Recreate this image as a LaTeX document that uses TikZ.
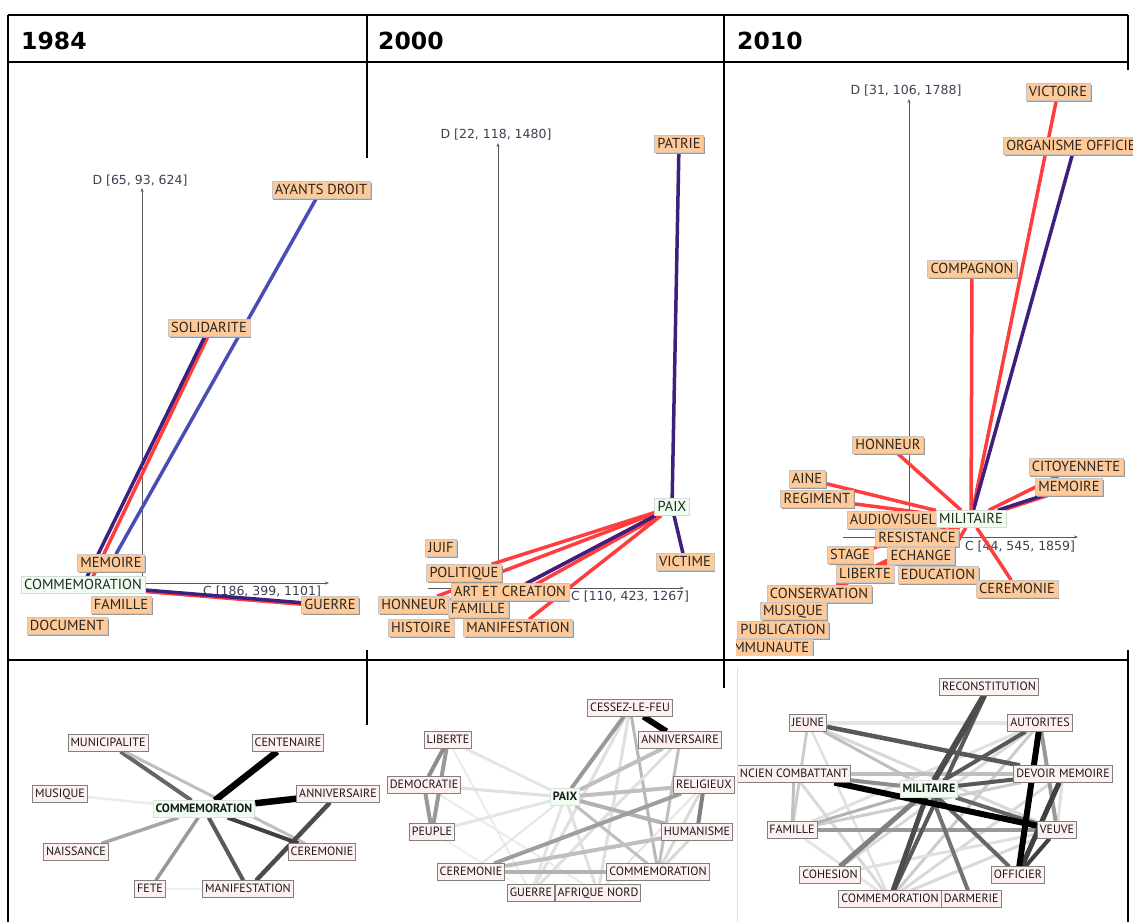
\documentclass[tikz,border=0pt]{standalone}
\usepackage{fontspec}
\setmainfont{PT Sans}
\newfontfamily\dejavu{DejaVu Sans}
\usetikzlibrary{positioning,arrows.meta,shadows,backgrounds}
\definecolor{peach}   {HTML}{FFCA98}
\definecolor{blush}   {HTML}{FFF0F0}
\definecolor{mintwash}{HTML}{EFFFEF}
\definecolor{redlink} {HTML}{FF3D3D}
\definecolor{bluelink}{HTML}{4A4DB5}
\definecolor{purplink}{HTML}{3D1F7E}
\definecolor{axisink} {HTML}{3B4150}
\tikzset{
  x=1pt, y=-1pt,
  % --- frame and headers
  frame/.style = {line width=2pt, draw=black},
  year/.style  = {anchor=west, inner sep=0pt, font=\dejavu\bfseries\fontsize{23.5}{26}\selectfont},
  % --- top panels
  tbase/.style = {line width=0.5pt, inner xsep=3pt, inner ysep=2pt, text=black!85,
                  text height=10.5pt, text depth=2.5pt, font=\fontsize{14.5}{16}\selectfont},
  term/.style  = {tbase, fill=peach, draw=gray!45,
                  drop shadow={shadow xshift=1.5pt, shadow yshift=-1.5pt, fill=gray!80, opacity=1}},
  pivot/.style = {tbase, fill=mintwash, draw=gray!30},
  axlab/.style = {inner sep=0pt, text=axisink, font=\dejavu\fontsize{12.5}{14}\selectfont},
  axis/.style  = {draw=black!65, line width=0.8pt, -{Stealth[length=4pt,width=3pt]}},
  link/.style  = {line width=3.5pt},
  rl/.style    = {link, draw=redlink},
  bl/.style    = {link, draw=bluelink},
  pl/.style    = {link, draw=purplink},
  % --- bottom panels
  word/.style  = {fill=blush, draw=black!50, line width=0.9pt, inner xsep=2.5pt, inner ysep=2.5pt,
                  text height=8.8pt, text depth=2.5pt, text=black!90,
                  font=\fontsize{12}{13}\selectfont},
  hub/.style   = {word, fill=mintwash, draw=gray!25, font=\bfseries\fontsize{12}{13}\selectfont},
  tie/.style 2 args = {draw=black!#1, line width=#2pt},
}
\begin{document}
\begin{tikzpicture}
  \useasboundingbox (0,0) rectangle (1133,922);

  % table frame
  \draw[frame] (8,15) -- (1128,15);
  \draw[frame] (8,62) -- (1128,62);
  \draw[frame] (8,660) -- (1128,660);
  \draw[frame] (8,15) -- (8,922);
  \draw[frame] (367,15) -- (367,158);
  \draw[frame] (367,650) -- (367,725);
  \draw[frame] (724,15) -- (724,688);
  \draw[frame] (1128,15) -- (1128,70);
  \draw[frame] (1128,650) -- (1128,922);
  \draw[gray!25, line width=0.8pt] (737,668) -- (737,922);

  \node[year] (h1984) at (21,41) {1984};
  \node[year] (h2000) at (378,41) {2000};
  \node[year] (h2010) at (737,41) {2010};

  % ---------------- 1984, top
  \node[term]  (a-ayants) at (321,190) {AYANTS DROIT};
  \node[term]  (a-solid)  at (209,328) {SOLIDARITE};
  \node[term]  (a-memo)   at (111,563) {MEMOIRE};
  \node[pivot] (a-comm)   at (83,585)  {COMMEMORATION};
  \node[term]  (a-fam)    at (121,605) {FAMILLE};
  \node[term]  (a-guer)   at (330,605) {GUERRE};
  \node[term]  (a-doc)    at (67,626)  {DOCUMENT};

  % ---------------- 2000, top
  \node[term]  (b-patrie) at (679,144) {PATRIE};
  \node[pivot] (b-paix)   at (672,507) {PAIX};
  \node[term]  (b-vict)   at (685,562) {VICTIME};
  \node[term]  (b-juif)   at (441,548) {JUIF};
  \node[term]  (b-polit)  at (464,573) {POLITIQUE};
  \node[term]  (b-honn)   at (414,605) {HONNEUR};
  \node[term]  (b-famil)  at (478,609) {FAMILLE};
  \node[term]  (b-art)    at (510,592) {ART ET CREATION};
  \node[term]  (b-hist)   at (421,628) {HISTOIRE};
  \node[term]  (b-manif)  at (518,628) {MANIFESTATION};

  % ---------------- 2010, top
  \node[term]  (c-vict)    at (1058,92)  {VICTOIRE};
  \node[term, anchor=west] (c-orga) at (1003,146) {ORGANISME OFFICIEL};
  \node[term]  (c-compag)  at (972,269)  {COMPAGNON};
  \node[term]  (c-honn)    at (888,445)  {HONNEUR};
  \node[term]  (c-citoy)   at (1076,467) {CITOYENNETE};
  \node[term]  (c-aine)    at (807,479)  {AINE};
  \node[term]  (c-memo)    at (1069,487) {MEMOIRE};
  \node[term]  (c-regim)   at (817,499)  {REGIMENT};
  \node[term]  (c-audio)   at (893,520)  {AUDIOVISUEL};
  \node[pivot] (c-milit)   at (971,519)  {MILITAIRE};
  \node[term]  (c-resist)  at (917,538)  {RESISTANCE};
  \node[term]  (c-stage)   at (850,555)  {STAGE};
  \node[term]  (c-echan)   at (921,556)  {ECHANGE};
  \node[term]  (c-liber)   at (865,574)  {LIBERTE};
  \node[term]  (c-educ)    at (938,575)  {EDUCATION};
  \node[term]  (c-cerem)   at (1017,589) {CEREMONIE};
  \node[term]  (c-conserv) at (819,594)  {CONSERVATION};
  \node[term]  (c-musiq)   at (793,611)  {MUSIQUE};
  \node[term]  (c-public)  at (783,630)  {PUBLICATION};
  \begin{scope}
    \clip (736,600) rectangle (900,655);
    \node[term, anchor=west] (c-commun) at (730,648) {MMUNAUTE};
  \end{scope}

  \begin{scope}[on background layer]
    % axes
    \coordinate (a-orig) at (142,583);
    \coordinate (a-dend) at (142,188);
    \coordinate (a-cbeg) at (30,583);
    \coordinate (a-cend) at (329,583);
    \draw[axis] (a-orig) -- (a-dend);
    \draw[axis] (a-cbeg) -- (a-cend);
    \node[axlab] (a-dlab) at (140,181) {D [65, 93, 624]};
    \node[axlab] (a-clab) at (262,592) {C [186, 399, 1101]};

    \coordinate (b-orig) at (498,588);
    \coordinate (b-dend) at (498,143);
    \coordinate (b-cbeg) at (428,588);
    \coordinate (b-cend) at (684,588);
    \draw[axis] (b-orig) -- (b-dend);
    \draw[axis] (b-cbeg) -- (b-cend);
    \node[axlab] (b-dlab) at (496,135) {D [22, 118, 1480]};
    \node[axlab, anchor=west] (b-clab) at (571,597) {C [110, 423, 1267]};

    \coordinate (c-orig) at (909,537);
    \coordinate (c-dend) at (909,99);
    \coordinate (c-cbeg) at (843,537);
    \coordinate (c-cend) at (1078,537);
    \draw[axis] (c-orig) -- (c-dend);
    \draw[axis] (c-cbeg) -- (c-cend);
    \node[axlab] (c-dlab) at (906,91)   {D [31, 106, 1788]};
    \node[axlab] (c-clab) at (1020,547) {C [44, 545, 1859]};

    % 1984 links
    \draw[bl] (a-ayants) -- (a-memo);
    \draw[rl] ([xshift=3pt]a-solid.center) -- ([xshift=6pt]a-comm.center);
    \draw[pl] (a-solid) -- (a-comm);
    \draw[rl] ([yshift=-1.5pt]a-comm.center) -- ([yshift=-1.5pt]a-guer.center);
    \draw[pl] (a-comm) -- (a-guer);

    % 2000 links
    \draw[pl] (b-patrie) -- (b-paix);
    \draw[pl] (b-paix) -- (b-vict);
    \draw[rl] (b-paix) -- (b-polit);
    \draw[rl] (b-paix) -- (b-honn);
    \draw[rl] (b-paix) -- (b-famil);
    \draw[rl] (b-paix) -- (b-manif);
    \draw[rl] ([xshift=3pt]b-paix.center) -- ([xshift=12pt]b-art.center);
    \draw[pl] (b-paix) -- (b-art);

    % 2010 links
    \draw[rl] (c-milit) -- (c-vict);
    \draw[pl] (c-milit) -- (c-orga);
    \draw[rl] (c-milit) -- (c-compag);
    \draw[rl] (c-milit) -- (c-honn);
    \draw[rl] (c-milit) -- (c-aine);
    \draw[rl] (c-milit) -- (c-regim);
    \draw[rl] (c-milit) -- (c-citoy);
    \draw[rl] ([yshift=-1.5pt]c-milit.center) -- ([yshift=-1.5pt]c-memo.center);
    \draw[pl] (c-milit) -- (c-memo);
    \draw[rl] (c-milit) -- (c-cerem);
    \draw[rl] (c-milit) -- (c-resist);
    \draw[rl] (c-milit) -- (c-stage);
    \draw[rl] (c-milit) -- (c-echan);
    \draw[rl] (c-milit) -- (c-liber);
    \draw[rl] (c-milit) -- (c-educ);
    \draw[rl] (c-milit) -- (c-conserv);
    \draw[rl] (c-milit) -- (c-musiq);
  \end{scope}

  % ---------------- 1984, graph
  \node[word] (ga-munic) at (108,743) {MUNICIPALITE};
  \node[word] (ga-cent)  at (288,743) {CENTENAIRE};
  \node[word] (ga-musiq) at (60,794)  {MUSIQUE};
  \node[word] (ga-anniv) at (338,794) {ANNIVERSAIRE};
  \node[hub]  (ga-comm)  at (204,809) {COMMEMORATION};
  \node[word] (ga-naiss) at (76,852)  {NAISSANCE};
  \node[word] (ga-cerem) at (322,852) {CEREMONIE};
  \node[word] (ga-fete)  at (150,889) {FETE};
  \node[word] (ga-manif) at (248,889) {MANIFESTATION};

  % ---------------- 2000, graph
  \node[word] (gb-cessez)  at (630,708) {CESSEZ-LE-FEU};
  \node[word] (gb-liberte) at (448,740) {LIBERTE};
  \node[word] (gb-anniv)   at (680,740) {ANNIVERSAIRE};
  \node[word] (gb-democ)   at (424,785) {DEMOCRATIE};
  \node[word] (gb-relig)   at (704,785) {RELIGIEUX};
  \node[hub]  (gb-paix)    at (565,797) {PAIX};
  \node[word] (gb-peuple)  at (432,832) {PEUPLE};
  \node[word] (gb-human)   at (697,832) {HUMANISME};
  \node[word] (gb-cerem)   at (471,872) {CEREMONIE};
  \node[word] (gb-comm)    at (658,872) {COMMEMORATION};
  \node[word] (gb-guerre)  at (531,893) {GUERRE};
  \node[word] (gb-afrique) at (598,893) {AFRIQUE NORD};

  % ---------------- 2010, graph
  \node[word] (gc-recon)    at (989,687)  {RECONSTITUTION};
  \node[word] (gc-jeune)    at (808,723)  {JEUNE};
  \node[word] (gc-autor)    at (1040,723) {AUTORITES};
  \begin{scope}
    \clip (738,700) rectangle (900,800);
    \node[word, anchor=west] (gc-ancien) at (737,774) {NCIEN COMBATTANT};
  \end{scope}
  \node[word] (gc-devoir)   at (1063,774) {DEVOIR MEMOIRE};
  \node[hub]  (gc-milit)    at (929,789)  {MILITAIRE};
  \node[word] (gc-famille)  at (792,830)  {FAMILLE};
  \node[word] (gc-veuve)    at (1057,830) {VEUVE};
  \node[word] (gc-cohesion) at (830,875)  {COHESION};
  \node[word] (gc-officier) at (1018,875) {OFFICIER};
  \node[word, anchor=west] (gc-gendarm) at (941,899) {DARMERIE};
  \node[word] (gc-comm)     at (890,899)  {COMMEMORATION};

  \begin{scope}[on background layer]
    % 1984 ties
    \draw[tie={60}{4}]   (ga-munic) -- (ga-comm);
    \draw[tie={25}{3}]   (ga-munic) -- (ga-cerem);
    \draw[tie={100}{6.5}] (ga-cent) -- (ga-comm);
    \draw[tie={100}{6.5}] (ga-anniv) -- (ga-comm);
    \draw[tie={70}{4.5}] (ga-anniv) -- (ga-manif);
    \draw[tie={8}{2.5}]  (ga-musiq) -- (ga-comm);
    \draw[tie={35}{3.5}] (ga-naiss) -- (ga-comm);
    \draw[tie={40}{3.5}] (ga-fete) -- (ga-comm);
    \draw[tie={6}{2}]    (ga-fete) -- (ga-manif);
    \draw[tie={65}{4}]   (ga-manif) -- (ga-comm);
    \draw[tie={75}{4}]   (ga-comm) -- (ga-cerem);

    % 2000 ties
    \draw[tie={12}{3}]  (gb-cessez) -- (gb-guerre);
    \draw[tie={12}{3}]  (gb-cessez) -- (gb-afrique);
    \draw[tie={28}{3}]  (gb-cessez) -- (gb-comm);
    \draw[tie={10}{3}]  (gb-liberte) -- (gb-paix);
    \draw[tie={8}{2}]   (gb-liberte) -- (gb-guerre);
    \draw[tie={12}{3}]  (gb-democ) -- (gb-paix);
    \draw[tie={8}{2}]   (gb-democ) -- (gb-afrique);
    \draw[tie={10}{3}]  (gb-peuple) -- (gb-paix);
    \draw[tie={6}{2}]   (gb-peuple) -- (gb-guerre);
    \draw[tie={12}{3}]  (gb-anniv) -- (gb-guerre);
    \draw[tie={15}{3}]  (gb-relig) -- (gb-comm);
    \draw[tie={10}{2}]  (gb-relig) -- (gb-afrique);
    \draw[tie={10}{3}]  (gb-paix) -- (gb-guerre);
    \draw[tie={12}{3}]  (gb-paix) -- (gb-afrique);
    \draw[tie={10}{2}]  (gb-paix) -- (gb-cerem);
    \draw[tie={15}{3}]  (gb-human) -- (gb-comm);
    \draw[tie={25}{4}]  (gb-human) -- (gb-cerem);
    \draw[tie={25}{3}]  (gb-anniv) -- (gb-comm);
    \draw[tie={25}{3}]  (gb-paix) -- (gb-comm);
    \draw[tie={25}{4}]  (gb-anniv) -- (gb-paix);
    \draw[tie={25}{4}]  (gb-relig) -- (gb-paix);
    \draw[tie={30}{4}]  (gb-paix) -- (gb-human);
    \draw[tie={30}{4}]  (gb-cerem) -- (gb-comm);
    \draw[tie={38}{4}]  (gb-relig) -- (gb-cerem);
    \draw[tie={40}{4}]  (gb-cessez) -- (gb-paix);
    \draw[tie={40}{4}]  (gb-liberte) -- (gb-peuple);
    \draw[tie={45}{4}]  (gb-liberte) -- (gb-democ);
    \draw[tie={40}{4}]  (gb-democ) -- (gb-peuple);
    \draw[tie={50}{4}]  (gb-relig) -- (gb-human);
    \draw[tie={100}{6}] (gb-cessez) -- (gb-anniv);

    % 2010 ties
    \draw[tie={10}{4}]  (gc-jeune) -- (gc-autor);
    \draw[tie={12}{2.5}] (gc-jeune) -- (gc-comm);
    \draw[tie={15}{3}]  (gc-jeune) -- (gc-veuve);
    \draw[tie={20}{3}]  (gc-jeune) -- (gc-famille);
    \draw[tie={25}{3}]  (gc-jeune) -- (gc-milit);
    \draw[tie={12}{3}]  (gc-autor) -- (gc-famille);
    \draw[tie={20}{3}]  (gc-autor) -- (gc-comm);
    \draw[tie={15}{3}]  (gc-autor) -- (gc-cohesion);
    \draw[tie={25}{4}]  (gc-ancien) -- (gc-devoir);
    \draw[tie={25}{3}]  (gc-ancien) -- (gc-famille);
    \draw[tie={15}{3}]  (gc-ancien) -- (gc-comm);
    \draw[tie={12}{3}]  (gc-devoir) -- (gc-veuve);
    \draw[tie={20}{3}]  (gc-devoir) -- (gc-famille);
    \draw[tie={15}{3}]  (gc-devoir) -- (gc-comm);
    \draw[tie={10}{3}]  (gc-famille) -- (gc-comm);
    \draw[tie={15}{3}]  (gc-veuve) -- (gc-comm);
    \draw[tie={12}{3}]  (gc-veuve) -- (gc-cohesion);
    \draw[tie={30}{3}]  (gc-milit) -- (gc-famille);
    \draw[tie={40}{4}]  (gc-autor) -- (gc-veuve);
    \draw[tie={40}{4}]  (gc-famille) -- (gc-veuve);
    \draw[tie={45}{4}]  (gc-ancien) -- (gc-milit);
    \draw[tie={50}{5}]  (gc-milit) -- (gc-cohesion);
    \draw[tie={55}{4}]  (gc-milit) -- (gc-gendarm);
    \draw[tie={60}{4}]  (gc-milit) -- (gc-veuve);
    \draw[tie={60}{4}]  (gc-milit) -- (gc-officier);
    \draw[tie={65}{4}]  (gc-recon) -- (gc-comm);
    \draw[tie={65}{4.5}] (gc-jeune) -- (gc-devoir);
    \draw[tie={65}{4}]  (gc-autor) -- (gc-milit);
    \draw[tie={65}{4}]  (gc-devoir) -- (gc-milit);
    \draw[tie={70}{5}]  (gc-milit) -- (gc-comm);
    \draw[tie={70}{6}]  (gc-recon) -- (gc-milit);
    \draw[tie={75}{5}]  (gc-devoir) -- (gc-officier);
    \draw[tie={75}{4}]  (gc-veuve) -- (gc-officier);
    \draw[tie={100}{6}] (gc-autor) -- (gc-officier);
    \draw[tie={100}{6}] (gc-ancien) -- (gc-veuve);
  \end{scope}
\end{tikzpicture}
\end{document}
